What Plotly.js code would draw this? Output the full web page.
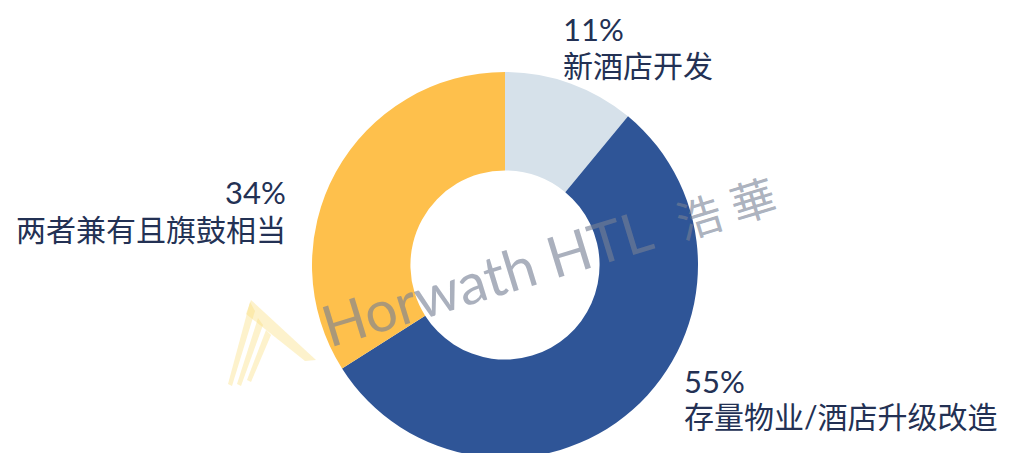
<!DOCTYPE html>
<html>
<head>
<meta charset="utf-8">
<script src="https://cdn.plot.ly/plotly-3.0.1.min.js"></script>
<style>
html,body{margin:0;padding:0;background:#fff;overflow:hidden;}
#chart{width:1024px;height:463px;}
</style>
</head>
<body>
<div id="chart"></div>
<script>
// ---- data ----
const labels = ['新酒店开发', '存量物业/酒店升级改造', '两者兼有且旗鼓相当'];
const values = [11, 55, 34];
const sliceColors = ['#d6e1ea', '#2f5597', '#fec04c'];
const watermarkLatin = 'Horwath HTL';
const watermarkCJK = '浩 華';

// ---- layout helpers (pixel -> paper) ----
const W = 1024, H = 463;
const px = x => x / W;
const py = y => 1 - y / H;

const txtColor = '#233154';
const font = "Lato, 'Noto Sans CJK SC', sans-serif";

// label placement (pixel positions of the text blocks)
const labelPos = [
  {x: 561, yPct: 29, yName: 65, anchor: 'left'},
  {x: 682, yPct: 381, yName: 416, anchor: 'left'},
  {x: 288, yPct: 192, yName: 229, anchor: 'right'}
];

const annotations = [];
labels.forEach((lab, i) => {
  const p = labelPos[i];
  annotations.push({
    xref: 'paper', yref: 'paper', x: px(p.x), y: py(p.yPct),
    xanchor: p.anchor, yanchor: 'middle', showarrow: false,
    text: values[i] + '%', font: {family: font, size: 31, color: txtColor}
  });
  annotations.push({
    xref: 'paper', yref: 'paper', x: px(p.x), y: py(p.yName),
    xanchor: p.anchor, yanchor: 'middle', showarrow: false,
    text: lab, font: {family: font, size: 30, color: txtColor}
  });
});

// watermark text
annotations.push({
  xref: 'paper', yref: 'paper', x: px(548), y: py(258),
  xanchor: 'center', yanchor: 'middle', showarrow: false,
  textangle: -17,
  text: watermarkLatin + '  <span style="font-size:45px">' + watermarkCJK + '</span>',
  font: {family: font, size: 57, weight: 400, color: 'rgba(118,128,148,0.62)'}
});

// faint logo strokes of the watermark
function poly(pts) {
  return 'M ' + pts.map(p => px(p[0]) + ',' + py(p[1])).join(' L ') + ' Z';
}
const logoFill = 'rgba(250,222,120,0.38)';
const shapes = [
  [[251, 300], [316, 360], [305, 361], [246, 314]],
  [[250, 302], [255, 311], [232, 386], [228, 384]],
  [[258, 318], [263, 325], [241, 386], [237, 384]],
  [[266, 330], [271, 335], [251, 382], [247, 380]]
].map(p => ({type: 'path', xref: 'paper', yref: 'paper', path: poly(p),
  fillcolor: logoFill, line: {width: 0}, layer: 'above'}));

const trace = {
  type: 'pie',
  labels: labels,
  values: values,
  sort: false,
  direction: 'clockwise',
  rotation: 0,
  hole: 0.49,
  textinfo: 'none',
  hoverinfo: 'none',
  showlegend: false,
  marker: {colors: sliceColors, line: {width: 0}},
  domain: {x: [px(312), px(698)], y: [py(458), py(72)]}
};

const layout = {
  width: W, height: H,
  margin: {l: 0, r: 0, t: 0, b: 0},
  paper_bgcolor: '#ffffff',
  plot_bgcolor: '#ffffff',
  showlegend: false,
  annotations: annotations,
  shapes: shapes
};

Plotly.newPlot('chart', [trace], layout, {staticPlot: true, displayModeBar: false});
</script>
</body>
</html>
